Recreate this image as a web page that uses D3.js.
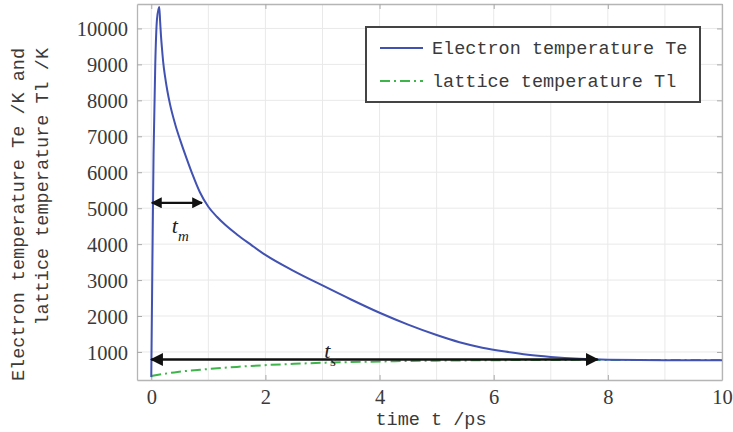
<!DOCTYPE html>
<html>
<head>
<meta charset="utf-8">
<script src="https://cdn.jsdelivr.net/npm/d3@7"></script>
<style>
  html, body { margin: 0; padding: 0; background: #fff; }
  svg { display: block; }
</style>
</head>
<body>
<svg id="chart" width="733" height="432"></svg>
<script>
// ---- data ----
const electronT = [
  [0, 300], [0.02, 3500], [0.04, 6500], [0.07, 9000], [0.1, 10250], [0.14, 10600],
  [0.155, 10200], [0.17, 9800], [0.19, 9400], [0.21, 9050], [0.24, 8680], [0.28, 8280],
  [0.33, 7880], [0.42, 7330], [0.51, 6880], [0.62, 6380], [0.72, 5950], [0.85, 5450],
  [1.0, 5040], [1.15, 4760], [1.3, 4530], [1.5, 4270], [1.75, 3980], [2.0, 3700],
  [2.5, 3250], [3.0, 2850], [3.5, 2460], [4.0, 2090], [4.5, 1760], [5.0, 1470],
  [5.4, 1270], [5.8, 1120], [6.2, 1010], [6.6, 920], [7.0, 860], [7.5, 810],
  [8.0, 785], [9.0, 772], [10.0, 768]
];
const latticeT = [
  [0, 330], [0.2, 385], [0.46, 445], [0.86, 505], [1.5, 585], [1.96, 630], [2.5, 670],
  [3.0, 700], [3.84, 730], [4.5, 750], [5.5, 765], [6.5, 775], [7.5, 780], [8.5, 778], [10, 775]
];
const xTicks = [0, 2, 4, 6, 8, 10];
const xGrid = [0, 1, 2, 3, 4, 5, 6, 7, 8, 9, 10];
const yTicks = [1000, 2000, 3000, 4000, 5000, 6000, 7000, 8000, 9000, 10000];
const seriesNames = ["Electron temperature Te", "lattice temperature Tl"];
const xLabel = "time t /ps";
const yLabelLines = ["Electron temperature Te /K and", "lattice temperature Tl /K"];
// annotations in data units
const tmArrow = { t0: 0.01, t1: 0.89, T: 5150 };
const tsArrow = { t0: 0.0, t1: 7.82, T: 790 };
const tmLabel = { t: 0.36, T: 4320, sub: "m" };
const tsLabel = { t: 3.03, T: 820, sub: "s" };

// ---- layout ----
const svg = d3.select("#chart");
const L = 137, R = 722, T = 4, B = 380;
const x = d3.scaleLinear().domain([-0.25, 10]).range([L, R]);
const y = d3.scaleLinear().domain([220, 10680]).range([B, T]);

const blue = "#4152b3", green = "#3db54a";
const textCol = "#3a3a3a";
const mono = "'Liberation Mono', 'DejaVu Sans Mono', monospace";
const serif = "'Liberation Serif', 'DejaVu Serif', serif";

// grid
const g = svg.append("g");
g.selectAll("line.gx").data(xGrid).join("line")
  .attr("x1", d => x(d)).attr("x2", d => x(d)).attr("y1", T).attr("y2", B)
  .attr("stroke", "#e9e9e9").attr("stroke-width", 1);
g.selectAll("line.gy").data(yTicks).join("line")
  .attr("x1", L).attr("x2", R).attr("y1", d => y(d)).attr("y2", d => y(d))
  .attr("stroke", "#e9e9e9").attr("stroke-width", 1);

// axes via d3
const axB = svg.append("g").attr("transform", `translate(0,${B})`)
  .call(d3.axisBottom(x).tickValues(xTicks).tickSizeInner(-5).tickSizeOuter(0).tickPadding(14));
const axT = svg.append("g").attr("transform", `translate(0,${T})`)
  .call(d3.axisTop(x).tickValues(xTicks).tickSizeInner(-5).tickSizeOuter(0).tickFormat(""));
const axL = svg.append("g").attr("transform", `translate(${L},0)`)
  .call(d3.axisLeft(y).tickValues(yTicks).tickSizeInner(-5).tickSizeOuter(0).tickPadding(9).tickFormat(d3.format("d")));
const axR = svg.append("g").attr("transform", `translate(${R},0)`)
  .call(d3.axisRight(y).tickValues(yTicks).tickSizeInner(-5).tickSizeOuter(0).tickFormat(""));
[axB, axT, axL, axR].forEach(a => {
  a.select(".domain").attr("stroke", "#b5b5b5").attr("stroke-width", 1.3);
  a.selectAll(".tick line").attr("stroke", "#aaa");
  a.selectAll("text").attr("font-family", serif).attr("font-size", 20.5).attr("fill", textCol);
});
axB.selectAll("text").attr("dy", "0.5em");
axL.selectAll("text").attr("dy", "0.35em");

// lines
const line = d3.line().x(d => x(d[0])).y(d => y(d[1])).curve(d3.curveMonotoneX);
svg.append("path").datum(latticeT).attr("d", line)
  .attr("fill", "none").attr("stroke", green).attr("stroke-width", 2)
  .attr("stroke-dasharray", "10,4,2,4");
svg.append("path").datum(electronT).attr("d", line)
  .attr("fill", "none").attr("stroke", blue).attr("stroke-width", 2);

// arrows
const defs = svg.append("defs");
defs.append("marker").attr("id", "ah").attr("viewBox", "0 0 10 10")
  .attr("refX", 9).attr("refY", 5).attr("markerWidth", 5).attr("markerHeight", 5)
  .attr("markerUnits", "strokeWidth").attr("orient", "auto-start-reverse")
  .append("path").attr("d", "M0,0 L10,5 L0,10 z").attr("fill", "#111");
function arrow(a, w) {
  svg.append("line")
    .attr("x1", x(a.t0)).attr("x2", x(a.t1)).attr("y1", y(a.T)).attr("y2", y(a.T))
    .attr("stroke", "#111").attr("stroke-width", w)
    .attr("marker-start", "url(#ah)").attr("marker-end", "url(#ah)");
}
arrow(tmArrow, 2.2);
arrow(tsArrow, 2.6);

function tlabel(l) {
  const t = svg.append("text").attr("x", x(l.t)).attr("y", y(l.T))
    .attr("font-family", serif).attr("font-style", "italic").attr("font-size", 22).attr("fill", "#222");
  t.append("tspan").text("t");
  t.append("tspan").attr("dy", 8).attr("font-size", 15).text(l.sub);
}
tlabel(tmLabel);
tlabel(tsLabel);

// legend
const lg = svg.append("g");
lg.append("rect").attr("x", 366).attr("y", 27).attr("width", 334).attr("height", 75)
  .attr("fill", "#fff").attr("stroke", "#444").attr("stroke-width", 2);
const legendItems = [
  { name: seriesNames[0], color: blue, dash: null },
  { name: seriesNames[1], color: green, dash: "10,4,2,4" }
];
legendItems.forEach((d, i) => {
  const cy = 48 + i * 33;
  lg.append("line").attr("x1", 380).attr("x2", 423).attr("y1", cy).attr("y2", cy)
    .attr("stroke", d.color).attr("stroke-width", 2).attr("stroke-dasharray", d.dash);
  lg.append("text").attr("x", 432).attr("y", cy + 6).text(d.name)
    .attr("font-family", mono).attr("font-size", 18.5).attr("fill", textCol);
});

// axis labels
svg.append("text").attr("x", 431).attr("y", 425).attr("text-anchor", "middle")
  .attr("font-family", mono).attr("font-size", 18.5).attr("fill", textCol).text(xLabel);
yLabelLines.forEach((s, i) => {
  svg.append("text")
    .attr("transform", `translate(${24 + i * 24},48) rotate(-90)`)
    .attr("text-anchor", "end")
    .attr("font-family", mono).attr("font-size", 18.5).attr("fill", textCol).text(s);
});
</script>
</body>
</html>
